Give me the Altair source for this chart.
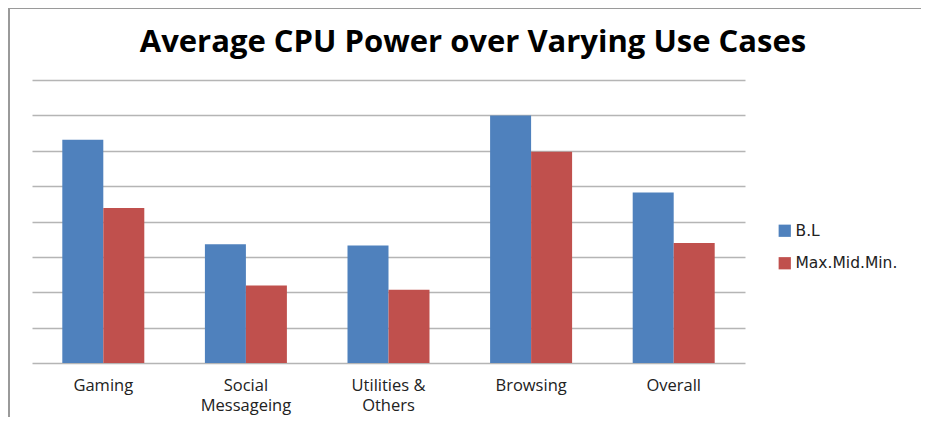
import altair as alt
import pandas as pd

title_text = "Average CPU Power over Varying Use Cases"
categories = ["Gaming", "Social\nMessageing", "Utilities &\nOthers", "Browsing", "Overall"]
series = ["B.L", "Max.Mid.Min."]
bl_values = [6.31, 3.36, 3.32, 7.0, 4.82]
mmm_values = [4.38, 2.19, 2.07, 5.97, 3.39]
colors = ["#4F81BD", "#C0504D"]
y_ticks = [0, 1, 2, 3, 4, 5, 6, 7, 8]

rows = []
for c, v in zip(categories, bl_values):
    rows.append({"cat": c, "series": series[0], "value": v})
for c, v in zip(categories, mmm_values):
    rows.append({"cat": c, "series": series[1], "value": v})
df = pd.DataFrame(rows)

bars = alt.Chart(df).mark_bar().encode(
    x=alt.X(
        "cat:N",
        sort=categories,
        scale=alt.Scale(paddingInner=0.425, paddingOuter=0.2125),
        axis=alt.Axis(
            title=None,
            labelAngle=0,
            domain=False,
            ticks=False,
            labelExpr="split(datum.label, '\\n')",
            labelFont="Open Sans",
            labelFontSize=16.5,
            labelColor="#222222",
            labelPadding=14,
            labelLineHeight=20,
        ),
    ),
    xOffset=alt.XOffset("series:N", sort=series),
    y=alt.Y(
        "value:Q",
        scale=alt.Scale(domain=[0, 8], nice=False, zero=True),
        axis=alt.Axis(
            title=None,
            labels=False,
            ticks=False,
            domain=False,
            values=y_ticks,
            gridColor="#b5b5b5",
            gridWidth=1.5,
        ),
    ),
    color=alt.Color(
        "series:N",
        sort=series,
        scale=alt.Scale(domain=series, range=colors),
        legend=alt.Legend(
            title=None,
            orient="none",
            legendX=745,
            legendY=143,
            symbolType="square",
            symbolSize=150,
            symbolStrokeWidth=0,
            labelFont="DejaVu Sans",
            labelFontSize=15.5,
            labelColor="#222222",
            rowPadding=15.5,
            labelOffset=3,
        ),
    ),
)

title = alt.Chart(pd.DataFrame({"t": [title_text]})).mark_text(
    font="Open Sans",
    fontSize=31,
    fontWeight="bold",
    color="#000000",
    align="center",
    baseline="alphabetic",
).encode(text="t:N", x=alt.value(441), y=alt.value(-28.5))

frame_left = alt.Chart(df).mark_rule(color="#9a9a9a", strokeWidth=1.5).encode(
    x=alt.value(-23), y=alt.value(-72), y2=alt.value(340)
)
frame_top = alt.Chart(df).mark_rule(color="#9a9a9a", strokeWidth=1.5).encode(
    x=alt.value(-23), x2=alt.value(905), y=alt.value(-72)
)

chart = (
    alt.layer(bars, title, frame_left, frame_top)
    .properties(
        width=713,
        height=283,
        autosize=alt.AutoSizeParams(type="none"),
        padding={"left": 24, "top": 72, "right": 176, "bottom": 54},
    )
    .configure_view(stroke=None)
)

chart.save("out.html", embed_options={"renderer": "svg", "actions": False})
